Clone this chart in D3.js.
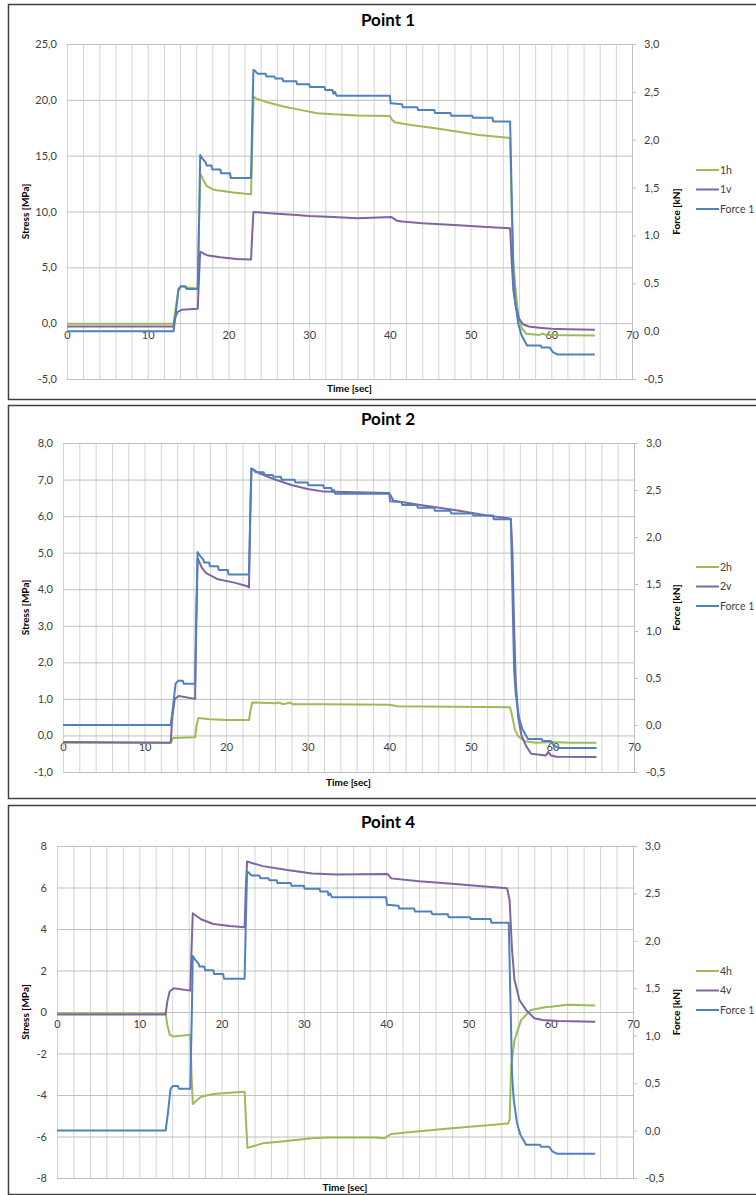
<!DOCTYPE html>
<html>
<head>
<meta charset="utf-8">
<script src="https://cdn.jsdelivr.net/npm/d3@7"></script>
<style>
  body { margin: 0; background: #fff; }
  svg { display: block; font-family: Lato, 'Open Sans', sans-serif; }
</style>
</head>
<body>
<svg id="chart" width="756" height="1195"></svg>
<script>
// ---- data: [time sec, value] ----
// Force 1 (kN) – same load signal in every panel, right axis
const force1 = [[0,0],[13.2,0],[13.5,0.2],[13.8,0.44],[14.1,0.47],[14.7,0.47],[14.8,0.44],[16.2,0.44],[16.4,1.3],[16.5,1.84],
  [16.8,1.80],[17.2,1.76],[17.3,1.73],[17.9,1.73],[18.0,1.69],[19.0,1.69],[19.1,1.65],[20.2,1.65],[20.3,1.60],[22.8,1.60],
  [22.95,2.2],[23.1,2.73],[23.3,2.72],[23.6,2.69],[24.6,2.69],[24.7,2.66],[25.7,2.66],[25.8,2.64],[26.7,2.64],[26.8,2.61],
  [28.4,2.61],[28.5,2.58],[30.0,2.58],[30.1,2.55],[31.9,2.55],[32.0,2.52],[32.9,2.52],[33.0,2.48],[33.2,2.50],[33.4,2.46],
  [40.0,2.46],[40.1,2.38],[41.5,2.37],[41.6,2.34],[43.4,2.34],[43.5,2.31],[45.5,2.31],[45.6,2.28],[47.5,2.28],[47.6,2.25],
  [50.2,2.25],[50.3,2.23],[52.7,2.23],[52.8,2.19],[54.9,2.19],[55.1,1.4],[55.3,0.6],[55.5,0.33],[55.9,0.08],[56.3,-0.04],
  [57.0,-0.15],[58.7,-0.15],[58.8,-0.17],[59.8,-0.17],[60.2,-0.22],[60.8,-0.245],[65.4,-0.245]];

// Point 1 stresses (MPa)
const p1h = [[0,-0.05],[13.2,-0.05],[13.5,1.5],[13.8,2.9],[14.2,3.3],[14.8,3.2],[16.2,3.1],[16.35,9],[16.5,13.4],[16.9,12.8],
  [17.3,12.3],[18.0,12.0],[18.6,11.9],[20.6,11.7],[22.8,11.55],[22.95,16],[23.1,20.3],[23.5,20.1],[24.7,19.8],[26.8,19.4],
  [28.9,19.1],[31,18.8],[33,18.7],[36,18.6],[40,18.55],[40.3,18.2],[40.6,18.0],[42.6,17.75],[45.6,17.45],[48.5,17.15],
  [51,16.85],[54.7,16.6],[54.9,16.55],[55.1,10],[55.3,5.5],[55.6,2.8],[55.9,0.8],[56.3,-0.4],[56.9,-0.95],[58.5,-1.05],
  [59.0,-0.95],[59.3,-1.05],[65.4,-1.1]];
const p1v = [[0,-0.3],[13.2,-0.3],[13.4,0.5],[13.7,1.0],[14.2,1.2],[16.2,1.3],[16.35,4],[16.5,6.4],[17.0,6.2],[17.5,6.05],
  [19,5.9],[21,5.75],[22.8,5.7],[22.95,8],[23.1,9.95],[24,9.9],[26,9.8],[28,9.7],[30,9.6],[33,9.5],[36,9.4],[40.2,9.5],
  [40.8,9.2],[41.5,9.1],[44,8.95],[48,8.8],[52,8.62],[54.9,8.5],[55.1,5.5],[55.3,3],[55.6,1.5],[56.0,0.4],[56.5,-0.1],
  [57.2,-0.3],[58.5,-0.4],[60,-0.5],[62,-0.55],[65.4,-0.6]];

// Point 2 stresses (MPa)
const p2h = [[0,-0.2],[13.2,-0.2],[13.5,-0.07],[16.2,-0.05],[16.4,0.3],[16.6,0.48],[18,0.44],[20,0.42],[22.8,0.42],[23.0,0.7],
  [23.2,0.9],[26,0.88],[26.5,0.9],[27.0,0.85],[27.8,0.9],[28.2,0.85],[32,0.85],[40,0.84],[41,0.8],[54.8,0.77],[55.0,0.6],
  [55.4,0.16],[55.8,-0.02],[56.6,-0.16],[58,-0.2],[60,-0.18],[62,-0.2],[65.4,-0.2]];
const p2v = [[0,-0.18],[13.2,-0.2],[13.4,0.5],[13.7,1.0],[14.2,1.08],[16.2,1.0],[16.3,3],[16.5,4.85],[17.0,4.6],[17.5,4.45],
  [19,4.27],[21,4.18],[22.5,4.09],[22.8,4.05],[22.95,6],[23.1,7.3],[23.5,7.25],[24,7.18],[26,7.0],[28,6.85],[30,6.74],
  [32,6.67],[36,6.65],[40,6.63],[40.5,6.42],[44,6.3],[48,6.17],[52,6.02],[54.9,5.93],[55.1,5.0],[55.3,3.0],[55.5,1.5],
  [55.8,0.5],[56.2,0.0],[56.8,-0.3],[57.4,-0.5],[59.2,-0.55],[59.5,-0.45],[59.8,-0.55],[60.5,-0.58],[65.4,-0.59]];

// Point 4 stresses (MPa)
const p4h = [[0,-0.06],[13.2,-0.06],[13.4,-0.6],[13.7,-1.1],[14.2,-1.18],[16.2,-1.1],[16.35,-3],[16.5,-4.43],[17,-4.25],
  [17.5,-4.08],[19,-3.95],[21,-3.89],[22.8,-3.84],[23.0,-5.5],[23.15,-6.55],[25,-6.33],[27,-6.25],[29,-6.17],[31,-6.08],
  [33,-6.05],[38.6,-6.05],[39.8,-6.08],[40.6,-5.88],[44,-5.75],[48,-5.6],[52,-5.47],[54.8,-5.37],[55.0,-5.2],[55.2,-2.6],
  [55.6,-1.35],[56.4,-0.39],[57.6,0.1],[59.3,0.23],[60,0.25],[62,0.35],[65.4,0.31]];
const p4v = [[0,-0.12],[13.2,-0.12],[13.4,0.5],[13.7,1.0],[14.2,1.14],[16.2,1.03],[16.35,3],[16.5,4.76],[17.5,4.47],[19,4.24],
  [21,4.14],[22.8,4.08],[22.95,6],[23.1,7.25],[25,7.03],[28,6.84],[31,6.68],[34,6.63],[40.2,6.65],[40.6,6.44],[44,6.3],
  [48,6.18],[52,6.05],[54.7,5.96],[55.0,5.4],[55.3,2.99],[55.6,1.54],[56.2,0.58],[57,0.1],[58,-0.3],[59,-0.39],[61,-0.43],
  [65.4,-0.47]];

// ---- ticks ----
const timeTicks = [0, 10, 20, 30, 40, 50, 60, 70];
const forceTicks = [-0.5, 0, 0.5, 1.0, 1.5, 2.0, 2.5, 3.0];
const stress1Ticks = [-5, 0, 5, 10, 15, 20, 25];
const stress2Ticks = [-1, 0, 1, 2, 3, 4, 5, 6, 7, 8];
const stress4Ticks = [-8, -6, -4, -2, 0, 2, 4, 6, 8];

const COL = { h: '#9bbb59', v: '#8064a2', f: '#4f81bd' };

const loc = d3.formatLocale({ decimal: ',', thousands: '.', grouping: [3], currency: ['', ''], minus: '-' });
const fmt1 = loc.format('.1f');
const fmt0 = loc.format('d');

const panels = [
  { title: 'Point 1', h: p1h, v: p1v, names: ['1h', '1v'], ticks: stress1Ticks, fmt: fmt1,
    box: [4, 399], x0: 67, x1: 632, y0: 44, y1: 379, titleY: 26, timeY: 392, legY: 170 },
  { title: 'Point 2', h: p2h, v: p2v, names: ['2h', '2v'], ticks: stress2Ticks, fmt: fmt1,
    box: [405, 798], x0: 63, x1: 634, y0: 443, y1: 772, titleY: 425, timeY: 786, legY: 567 },
  { title: 'Point 4', h: p4h, v: p4v, names: ['4h', '4v'], ticks: stress4Ticks, fmt: fmt0,
    box: [805, 1194], x0: 57, x1: 633, y0: 846, y1: 1178, titleY: 828, timeY: 1191, legY: 971 }
];

const svg = d3.select('#chart');

panels.forEach(p => {
  const g = svg.append('g');

  // frame
  g.append('rect')
    .attr('x', 8.5).attr('y', p.box[0] + 0.5)
    .attr('width', 780).attr('height', p.box[1] - p.box[0])
    .attr('fill', '#fff').attr('stroke', '#404040').attr('stroke-width', 1.5);

  const x = d3.scaleLinear().domain([0, 70]).range([p.x0, p.x1]);
  const yL = d3.scaleLinear().domain(d3.extent(p.ticks)).range([p.y1, p.y0]);
  const yR = d3.scaleLinear().domain(d3.extent(forceTicks)).range([p.y1, p.y0]);

  // vertical gridlines every 2 s
  g.append('g')
    .attr('transform', `translate(0,${p.y1})`)
    .call(d3.axisBottom(x).tickValues(d3.range(0, 71, 2)).tickSize(-(p.y1 - p.y0)).tickFormat(''))
    .call(a => a.select('.domain').remove())
    .call(a => a.selectAll('line').attr('stroke', '#d4d4d4'));

  // horizontal gridlines + left labels
  g.append('g')
    .attr('transform', `translate(${p.x0},0)`)
    .call(d3.axisLeft(yL).tickValues(p.ticks).tickSize(-(p.x1 - p.x0)).tickPadding(10).tickFormat(p.fmt))
    .call(a => a.select('.domain').remove())
    .call(a => a.selectAll('line').attr('stroke', '#bfbfbf'))
    .call(a => a.selectAll('text').attr('font-size', 11).attr('fill', '#404040').attr('font-family', 'Lato, sans-serif'));

  // time labels just under the zero line
  g.append('g')
    .attr('transform', `translate(0,${yL(0)})`)
    .call(d3.axisBottom(x).tickValues(timeTicks).tickSize(0).tickPadding(8))
    .call(a => a.select('.domain').remove())
    .call(a => a.selectAll('text').attr('font-size', 11).attr('fill', '#404040').attr('font-family', 'Lato, sans-serif'));

  // right force axis
  g.append('g')
    .attr('transform', `translate(${p.x1},0)`)
    .call(d3.axisRight(yR).tickValues(forceTicks).tickSize(4).tickSizeOuter(0).tickPadding(8).tickFormat(fmt1))
    .call(a => a.select('.domain').attr('stroke', '#bfbfbf'))
    .call(a => a.selectAll('line').attr('stroke', '#bfbfbf'))
    .call(a => a.selectAll('text').attr('font-size', 11).attr('fill', '#404040').attr('font-family', 'Lato, sans-serif'));

  // series
  const lineL = d3.line().x(d => x(d[0])).y(d => yL(d[1]));
  const lineR = d3.line().x(d => x(d[0])).y(d => yR(d[1]));
  const series = [
    { d: p.h, fn: lineL, c: COL.h },
    { d: p.v, fn: lineL, c: COL.v },
    { d: force1, fn: lineR, c: COL.f }
  ];
  series.forEach(s => {
    g.append('path').datum(s.d)
      .attr('d', s.fn)
      .attr('fill', 'none')
      .attr('stroke', s.c)
      .attr('stroke-width', 2)
      .attr('stroke-linejoin', 'round');
  });

  // titles
  g.append('text').attr('x', 388).attr('y', p.titleY)
    .attr('text-anchor', 'middle').attr('font-size', 17).attr('font-weight', 'bold')
    .text(p.title);
  g.append('text').attr('x', (p.x0 + p.x1) / 2).attr('y', p.timeY)
    .attr('text-anchor', 'middle').attr('font-size', 10).attr('font-weight', 'bold')
    .text('Time [sec]');
  const yMid = (p.y0 + p.y1) / 2;
  g.append('text').attr('transform', `translate(29,${yMid}) rotate(-90)`)
    .attr('text-anchor', 'middle').attr('font-size', 10).attr('font-weight', 'bold')
    .text('Stress [MPa]');
  g.append('text').attr('transform', `translate(680,${yMid}) rotate(-90)`)
    .attr('text-anchor', 'middle').attr('font-size', 10).attr('font-weight', 'bold')
    .text('Force [kN]');

  // legend
  const legend = [[p.names[0], COL.h], [p.names[1], COL.v], ['Force 1', COL.f]];
  legend.forEach((l, i) => {
    const ly = p.legY + i * 19.5;
    g.append('line').attr('x1', 696).attr('x2', 719).attr('y1', ly).attr('y2', ly)
      .attr('stroke', l[1]).attr('stroke-width', 2);
    g.append('text').attr('x', 720).attr('y', ly).attr('dy', '0.35em')
      .attr('font-size', 10.5).attr('fill', '#404040').text(l[0]);
  });
});
</script>
</body>
</html>
